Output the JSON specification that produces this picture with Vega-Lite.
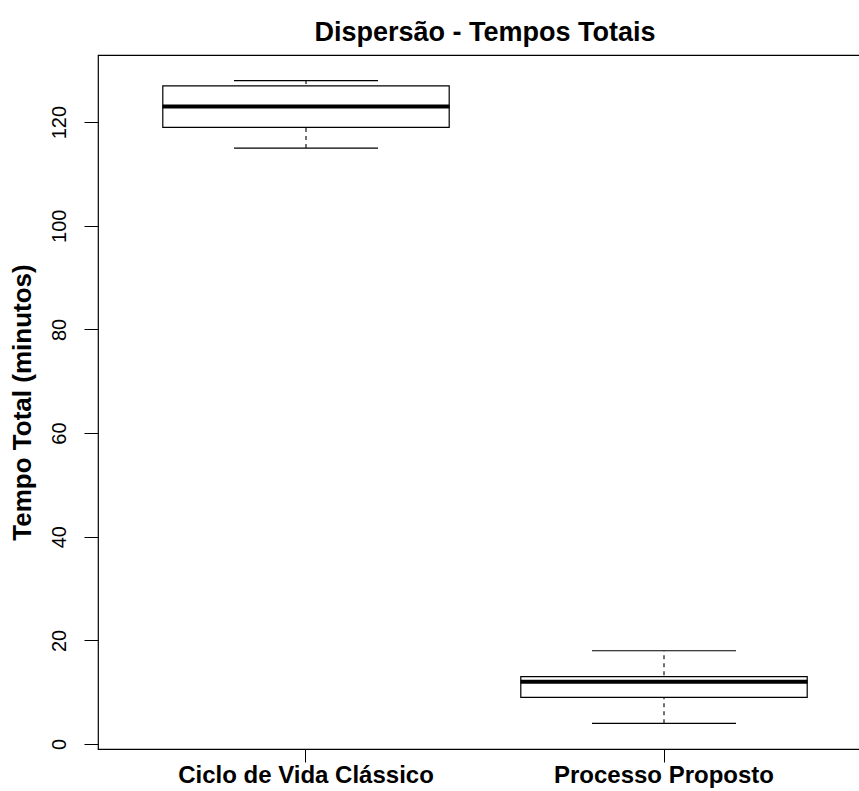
{
  "$schema": "https://vega.github.io/schema/vega-lite/v6.json",
  "autosize": {"type": "none"},
  "padding": {"left": 98, "top": 55, "right": 0, "bottom": 42},
  "width": 774,
  "height": 694,
  "background": "white",
  "config": {
    "font": "Liberation Sans",
    "view": {"stroke": "black", "strokeWidth": 1.2},
    "axis": {"grid": false, "domain": false, "tickColor": "black", "tickWidth": 1, "labelColor": "black", "titleColor": "black", "labelLimit": 0}
  },
  "title": {
    "text": "Dispersão - Tempos Totais",
    "font": "Liberation Sans",
    "fontSize": 27,
    "fontWeight": "bold",
    "anchor": "middle",
    "color": "black",
    "offset": 8
  },
  "data": {
    "values": [
      {"grupo": "Ciclo de Vida Clássico", "min": 115, "q1": 119, "median": 123, "q3": 127, "max": 128},
      {"grupo": "Processo Proposto", "min": 4, "q1": 9, "median": 12, "q3": 13, "max": 18}
    ]
  },
  "encoding": {
    "x": {
      "field": "grupo",
      "type": "nominal",
      "sort": null,
      "scale": {"paddingInner": 0, "paddingOuter": 0.081},
      "axis": {
        "title": null,
        "labelAngle": 0,
        "labelFontSize": 24,
        "labelFontWeight": "bold",
        "labelFont": "Liberation Sans",
        "labelLimit": 0,
        "tickSize": 13,
        "labelPadding": 13,
        "labelBaseline": "middle"
      }
    }
  },
  "layer": [
    {
      "mark": {"type": "rule", "strokeDash": [4, 4], "strokeWidth": 1.1, "color": "black"},
      "encoding": {
        "y": {
          "field": "min",
          "type": "quantitative",
          "scale": {"domain": [-0.96, 132.96], "nice": false, "zero": false},
          "axis": {
            "values": [0, 20, 40, 60, 80, 100, 120],
            "title": "Tempo Total (minutos)",
            "titleFont": "Liberation Sans",
            "titleFontSize": 26,
            "titleFontWeight": "bold",
            "titleAngle": -90,
            "titleX": -76,
            "titleY": 347,
            "titleAlign": "center",
            "titleBaseline": "middle",
            "labelAngle": -90,
            "labelFontSize": 20,
            "labelFont": "Liberation Sans",
            "labelAlign": "center",
            "labelBaseline": "middle",
            "tickSize": 14,
            "labelPadding": 25
          }
        },
        "y2": {"field": "max"}
      }
    },
    {
      "mark": {"type": "bar", "width": {"band": 0.8}, "fill": "white", "stroke": "black", "strokeWidth": 1.2},
      "encoding": {
        "y": {"field": "q1", "type": "quantitative"},
        "y2": {"field": "q3"}
      }
    },
    {
      "mark": {"type": "tick", "size": 287, "thickness": 4, "color": "black", "opacity": 1},
      "encoding": {
        "y": {"field": "median", "type": "quantitative"}
      }
    },
    {
      "mark": {"type": "tick", "size": 144, "thickness": 1.2, "color": "black", "opacity": 1},
      "encoding": {
        "y": {"field": "min", "type": "quantitative"}
      }
    },
    {
      "mark": {"type": "tick", "size": 144, "thickness": 1.2, "color": "black", "opacity": 1},
      "encoding": {
        "y": {"field": "max", "type": "quantitative"}
      }
    }
  ]
}
